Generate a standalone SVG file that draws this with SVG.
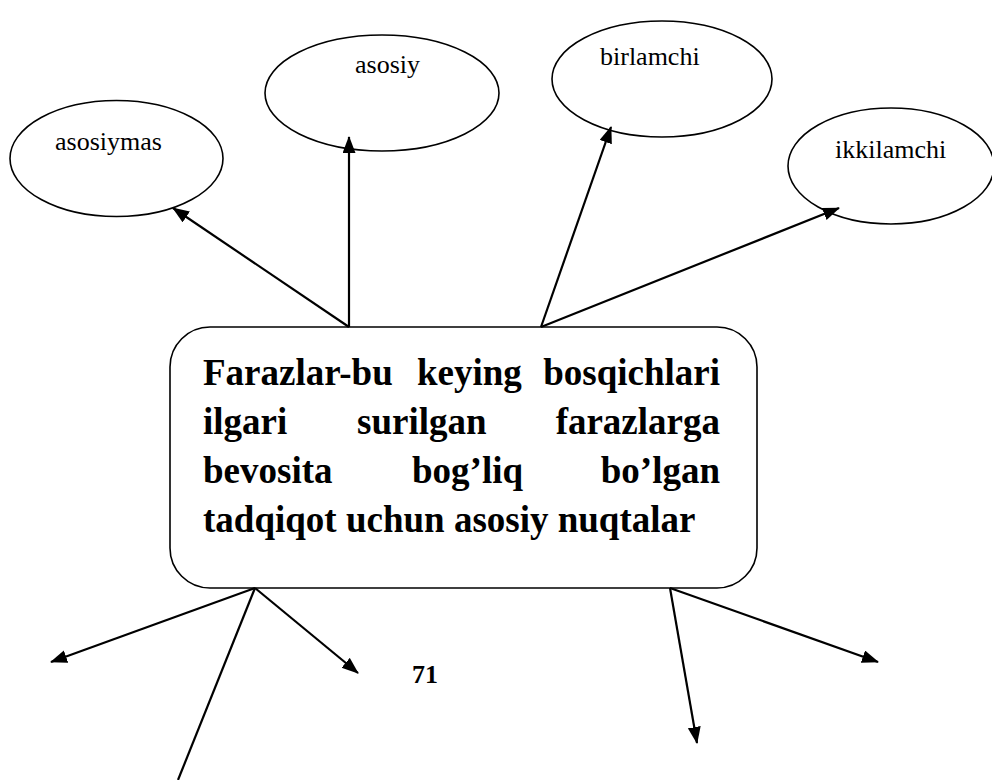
<svg xmlns="http://www.w3.org/2000/svg" width="992" height="780" viewBox="0 0 992 780">
<style>
  .ell { fill: #ffffff; stroke: #000000; stroke-width: 1.6; }
  .box { fill: #ffffff; stroke: #000000; stroke-width: 1.6; }
  .lbl { font-family: "Liberation Serif", "Times New Roman", serif; font-size: 26px; fill: #000000; }
  .main { font-family: "Liberation Serif", "Times New Roman", serif; font-size: 37px; font-weight: bold; fill: #000000; }
  .num { font-family: "Liberation Serif", "Times New Roman", serif; font-size: 26px; font-weight: bold; fill: #000000; }
  .conn { fill: none; stroke: #000000; stroke-width: 2.2; }
</style>
<defs>
  <marker id="arr" markerUnits="userSpaceOnUse" markerWidth="18" markerHeight="14" refX="16" refY="6.5" orient="auto">
    <path d="M0,0 L17,6.5 L0,13 z" fill="#000000"/>
  </marker>
</defs>
<rect width="992" height="780" fill="#ffffff"/>

<g id="node-asosiymas">
  <ellipse class="ell" cx="116.5" cy="158.5" rx="106.5" ry="58"/>
  <text class="lbl" x="55" y="150">asosiymas</text>
</g>
<g id="node-asosiy">
  <ellipse class="ell" cx="382" cy="93" rx="117" ry="58"/>
  <text class="lbl" x="355" y="73">asosiy</text>
</g>
<g id="node-birlamchi">
  <ellipse class="ell" cx="662" cy="79" rx="110" ry="58"/>
  <text class="lbl" x="600" y="65">birlamchi</text>
</g>
<g id="node-ikkilamchi">
  <ellipse class="ell" cx="891" cy="166" rx="103" ry="58"/>
  <text class="lbl" x="835" y="158">ikkilamchi</text>
</g>

<g id="node-center">
  <rect class="box" x="170" y="327" width="587" height="261" rx="40" ry="40"/>
  <text class="main" x="203" y="385">Farazlar-bu</text>
  <text class="main" x="417" y="385">keying</text>
  <text class="main" x="720" y="385" text-anchor="end">bosqichlari</text>
  <text class="main" x="203" y="434">ilgari</text>
  <text class="main" x="357" y="434">surilgan</text>
  <text class="main" x="720" y="434" text-anchor="end">farazlarga</text>
  <text class="main" x="203" y="483">bevosita</text>
  <text class="main" x="412" y="483">bog’liq</text>
  <text class="main" x="720" y="483" text-anchor="end">bo’lgan</text>
  <text class="main" x="203" y="532">tadqiqot uchun asosiy nuqtalar</text>
</g>

<g id="page-number">
  <text class="num" x="412" y="683">71</text>
</g>

<g id="connectors">
  <line class="conn" x1="349" y1="327" x2="173" y2="208" marker-end="url(#arr)"/>
  <line class="conn" x1="349" y1="327" x2="349" y2="137" marker-end="url(#arr)"/>
  <line class="conn" x1="541" y1="327" x2="611" y2="127" marker-end="url(#arr)"/>
  <line class="conn" x1="541" y1="327" x2="839" y2="208" marker-end="url(#arr)"/>
  <line class="conn" x1="255" y1="588" x2="51" y2="662" marker-end="url(#arr)"/>
  <line class="conn" x1="255" y1="588" x2="358" y2="673" marker-end="url(#arr)"/>
  <line class="conn" x1="255" y1="588" x2="178" y2="780"/>
  <line class="conn" x1="670" y1="588" x2="878" y2="662" marker-end="url(#arr)"/>
  <line class="conn" x1="670" y1="588" x2="697" y2="743" marker-end="url(#arr)"/>
</g>
</svg>
